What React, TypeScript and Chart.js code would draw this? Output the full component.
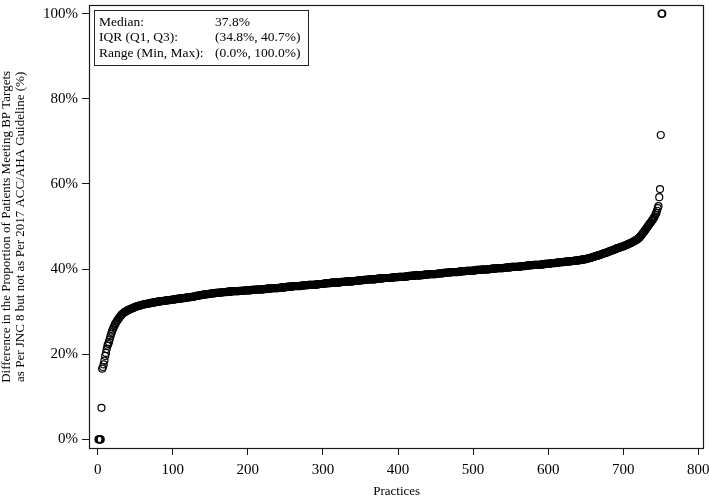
import React, { useEffect, useRef } from "react";
import { Chart, registerables } from "chart.js";

Chart.register(...registerables);

const FONT = "'Liberation Serif', 'Times New Roman', serif";

const xTickValues = [0, 100, 200, 300, 400, 500, 600, 700, 800];
const yTickValues = [0, 20, 40, 60, 80, 100];
const xTitle = "Practices";
const yTitleLines = [
  "Difference in the Proportion of Patients Meeting BP Targets",
  "as Per JNC 8 but not as Per 2017 ACC/AHA Guideline (%)",
];
const summaryLabels = ["Median:", "IQR (Q1, Q3):", "Range (Min, Max):"];
const summaryValues = ["37.8%", "(34.8%, 40.7%)", "(0.0%, 100.0%)"];

// Sorted per-practice difference (%), practices ranked 1..N
const proportionPct = [
  0, 0, 0, 0, 7.4, 16.6, 17.0, 17.6, 18.5, 19.6,
  20.3, 21.2, 22.0, 22.4, 22.9, 23.5, 24.2, 24.8, 25.3, 25.8,
  26.2, 26.6, 27.0, 27.3, 27.6, 27.9, 28.1, 28.4, 28.6, 28.9,
  29.1, 29.3, 29.5, 29.6, 29.8, 29.9, 30.0, 30.1, 30.2, 30.3,
  30.4, 30.5, 30.6, 30.6, 30.7, 30.8, 30.9, 30.9, 31.0, 31.1,
  31.2, 31.2, 31.3, 31.3, 31.4, 31.4, 31.5, 31.5, 31.6, 31.6,
  31.7, 31.7, 31.8, 31.8, 31.8, 31.9, 31.9, 31.9, 32.0, 32.0,
  32.0, 32.1, 32.1, 32.1, 32.2, 32.2, 32.2, 32.3, 32.3, 32.3,
  32.4, 32.4, 32.4, 32.4, 32.5, 32.5, 32.5, 32.5, 32.6, 32.6,
  32.6, 32.6, 32.7, 32.7, 32.7, 32.7, 32.8, 32.8, 32.8, 32.8,
  32.9, 32.9, 32.9, 32.9, 33.0, 33.0, 33.0, 33.0, 33.1, 33.1,
  33.1, 33.1, 33.2, 33.2, 33.2, 33.2, 33.3, 33.3, 33.3, 33.3,
  33.4, 33.4, 33.4, 33.4, 33.5, 33.5, 33.5, 33.5, 33.6, 33.6,
  33.7, 33.7, 33.7, 33.8, 33.8, 33.8, 33.9, 33.9, 33.9, 34.0,
  34.0, 34.0, 34.0, 34.1, 34.1, 34.1, 34.1, 34.2, 34.2, 34.2,
  34.2, 34.3, 34.3, 34.3, 34.3, 34.3, 34.4, 34.4, 34.4, 34.4,
  34.4, 34.5, 34.5, 34.5, 34.5, 34.5, 34.6, 34.6, 34.6, 34.6,
  34.6, 34.6, 34.7, 34.7, 34.7, 34.7, 34.7, 34.7, 34.8, 34.8,
  34.8, 34.8, 34.8, 34.8, 34.8, 34.8, 34.8, 34.8, 34.9, 34.9,
  34.9, 34.9, 34.9, 34.9, 34.9, 35.0, 35.0, 35.0, 35.0, 35.0,
  35.0, 35.0, 35.0, 35.0, 35.1, 35.1, 35.1, 35.1, 35.1, 35.1,
  35.2, 35.2, 35.2, 35.2, 35.2, 35.2, 35.2, 35.2, 35.2, 35.2,
  35.3, 35.3, 35.3, 35.3, 35.4, 35.4, 35.4, 35.4, 35.4, 35.4,
  35.5, 35.5, 35.5, 35.5, 35.5, 35.5, 35.5, 35.5, 35.5, 35.5,
  35.6, 35.6, 35.6, 35.6, 35.7, 35.7, 35.7, 35.7, 35.7, 35.7,
  35.8, 35.8, 35.8, 35.8, 35.9, 35.9, 35.9, 35.9, 35.9, 35.9,
  36.0, 36.0, 36.0, 36.0, 36.0, 36.0, 36.0, 36.0, 36.0, 36.0,
  36.1, 36.1, 36.1, 36.1, 36.2, 36.2, 36.2, 36.2, 36.2, 36.2,
  36.3, 36.3, 36.3, 36.3, 36.3, 36.3, 36.3, 36.3, 36.3, 36.3,
  36.4, 36.4, 36.4, 36.4, 36.5, 36.5, 36.5, 36.5, 36.5, 36.5,
  36.6, 36.6, 36.6, 36.6, 36.7, 36.7, 36.7, 36.7, 36.7, 36.7,
  36.8, 36.8, 36.8, 36.8, 36.8, 36.8, 36.8, 36.8, 36.8, 36.8,
  36.9, 36.9, 36.9, 36.9, 37.0, 37.0, 37.0, 37.0, 37.0, 37.0,
  37.1, 37.1, 37.1, 37.1, 37.1, 37.1, 37.1, 37.1, 37.1, 37.1,
  37.2, 37.2, 37.2, 37.2, 37.3, 37.3, 37.3, 37.3, 37.3, 37.3,
  37.4, 37.4, 37.4, 37.4, 37.5, 37.5, 37.5, 37.5, 37.5, 37.5,
  37.6, 37.6, 37.6, 37.6, 37.6, 37.6, 37.6, 37.6, 37.6, 37.6,
  37.7, 37.7, 37.7, 37.7, 37.8, 37.8, 37.8, 37.8, 37.8, 37.8,
  37.9, 37.9, 37.9, 37.9, 37.9, 37.9, 37.9, 37.9, 37.9, 37.9,
  38.0, 38.0, 38.0, 38.0, 38.1, 38.1, 38.1, 38.1, 38.1, 38.1,
  38.2, 38.2, 38.2, 38.2, 38.2, 38.2, 38.2, 38.2, 38.2, 38.2,
  38.3, 38.3, 38.3, 38.3, 38.4, 38.4, 38.4, 38.4, 38.4, 38.4,
  38.5, 38.5, 38.5, 38.5, 38.5, 38.5, 38.5, 38.5, 38.5, 38.5,
  38.6, 38.6, 38.6, 38.6, 38.7, 38.7, 38.7, 38.7, 38.7, 38.7,
  38.8, 38.8, 38.8, 38.8, 38.8, 38.8, 38.8, 38.8, 38.8, 38.8,
  38.9, 38.9, 38.9, 38.9, 39.0, 39.0, 39.0, 39.0, 39.0, 39.0,
  39.1, 39.1, 39.1, 39.1, 39.2, 39.2, 39.2, 39.2, 39.2, 39.2,
  39.3, 39.3, 39.3, 39.3, 39.3, 39.3, 39.3, 39.3, 39.3, 39.3,
  39.4, 39.4, 39.4, 39.4, 39.5, 39.5, 39.5, 39.5, 39.5, 39.5,
  39.6, 39.6, 39.6, 39.6, 39.6, 39.6, 39.6, 39.6, 39.6, 39.6,
  39.7, 39.7, 39.7, 39.7, 39.8, 39.8, 39.8, 39.8, 39.8, 39.8,
  39.9, 39.9, 39.9, 39.9, 39.9, 39.9, 39.9, 39.9, 39.9, 39.9,
  40.0, 40.0, 40.0, 40.0, 40.1, 40.1, 40.1, 40.1, 40.1, 40.1,
  40.2, 40.2, 40.2, 40.2, 40.2, 40.2, 40.2, 40.2, 40.2, 40.2,
  40.3, 40.3, 40.3, 40.3, 40.4, 40.4, 40.4, 40.4, 40.4, 40.4,
  40.5, 40.5, 40.5, 40.5, 40.5, 40.5, 40.5, 40.5, 40.5, 40.5,
  40.6, 40.6, 40.6, 40.6, 40.7, 40.7, 40.7, 40.7, 40.7, 40.7,
  40.8, 40.8, 40.8, 40.8, 40.9, 40.9, 40.9, 40.9, 40.9, 40.9,
  41.0, 41.0, 41.0, 41.0, 41.0, 41.0, 41.0, 41.0, 41.0, 41.0,
  41.1, 41.1, 41.1, 41.1, 41.2, 41.2, 41.2, 41.2, 41.2, 41.2,
  41.3, 41.3, 41.3, 41.3, 41.4, 41.4, 41.4, 41.4, 41.4, 41.4,
  41.5, 41.5, 41.5, 41.5, 41.6, 41.6, 41.6, 41.6, 41.6, 41.6,
  41.7, 41.7, 41.7, 41.7, 41.8, 41.8, 41.8, 41.8, 41.8, 41.8,
  41.9, 41.9, 41.9, 41.9, 42.0, 42.0, 42.0, 42.0, 42.0, 42.0,
  42.1, 42.1, 42.1, 42.2, 42.2, 42.2, 42.3, 42.3, 42.3, 42.3,
  42.4, 42.4, 42.5, 42.5, 42.6, 42.6, 42.7, 42.7, 42.8, 42.8,
  42.9, 43.0, 43.0, 43.1, 43.1, 43.2, 43.2, 43.3, 43.3, 43.4,
  43.5, 43.5, 43.6, 43.7, 43.7, 43.8, 43.8, 43.9, 44.0, 44.0,
  44.1, 44.2, 44.2, 44.3, 44.4, 44.4, 44.5, 44.6, 44.6, 44.7,
  44.8, 44.9, 44.9, 45.0, 45.0, 45.1, 45.2, 45.2, 45.3, 45.3,
  45.4, 45.5, 45.6, 45.6, 45.7, 45.8, 45.9, 46.0, 46.0, 46.1,
  46.2, 46.3, 46.4, 46.5, 46.6, 46.7, 46.8, 46.9, 47.0, 47.2,
  47.3, 47.5, 47.7, 47.9, 48.1, 48.4, 48.6, 48.8, 49.1, 49.3,
  49.6, 49.8, 50.1, 50.3, 50.6, 50.8, 51.0, 51.3, 51.5, 51.8,
  52.1, 52.4, 52.8, 53.2, 53.7, 54.3, 54.8, 56.9, 58.8, 71.5,
  100, 100,
];

const practiceRank = proportionPct.map((_, i) => i + 1);

const framePlugin = {
  id: "frameAndSummary",
  afterDraw(chart: any) {
    const { ctx, chartArea: a } = chart;
    ctx.save();
    ctx.strokeStyle = "#1a1a1a";
    ctx.lineWidth = 1.2;
    ctx.strokeRect(
      Math.round(a.left) + 0.5,
      Math.round(a.top) + 0.5,
      Math.round(a.right - a.left) - 1,
      Math.round(a.bottom - a.top) - 1
    );
    // summary box
    const bx = Math.round(a.left) + 5.5;
    const by = Math.round(a.top) + 5.5;
    ctx.strokeStyle = "#222";
    ctx.lineWidth = 1;
    ctx.strokeRect(bx, by, 214, 55);
    ctx.fillStyle = "#000";
    ctx.font = `13.5px ${FONT}`;
    ctx.textBaseline = "alphabetic";
    ctx.textAlign = "left";
    summaryLabels.forEach((lab, i) => {
      const y = by + 15 + i * 15.5;
      ctx.fillText(lab, bx + 4.5, y);
      ctx.fillText(summaryValues[i], bx + 120.5, y);
    });
    ctx.restore();
  },
};

export default function App() {
  const ref = useRef<HTMLCanvasElement | null>(null);
  useEffect(() => {
    if (!ref.current) return;
    const chart = new Chart(ref.current, {
      type: "scatter",
      data: {
        datasets: [
          {
            data: practiceRank.map((r, i) => ({ x: r, y: proportionPct[i] })),
            pointRadius: 3.5,
            pointBorderWidth: 1.2,
            pointBorderColor: "#000",
            pointBackgroundColor: "rgba(0,0,0,0)",
            pointHoverRadius: 3.5,
          },
        ],
      },
      options: {
        responsive: false,
        maintainAspectRatio: false,
        animation: false,
        devicePixelRatio: 1,
        events: [],
        layout: { padding: { top: 1, right: 4, left: 0, bottom: 0 } },
        plugins: { legend: { display: false }, tooltip: { enabled: false } },
        scales: {
          x: {
            type: "linear",
            min: -11.6,
            max: 808,
            afterBuildTicks: (s: any) => {
              s.ticks = xTickValues.map((v) => ({ value: v }));
            },
            afterFit: (s: any) => {
              s.height = 51;
              s.paddingLeft = 0;
              s.paddingRight = 0;
              s.paddingTop = 0;
              s.paddingBottom = 0;
            },
            ticks: {
              font: { family: FONT, size: 15 },
              color: "#000",
              padding: 6,
              maxRotation: 0,
              autoSkip: false,
              callback: (v: any) => String(v),
            },
            grid: {
              display: true,
              drawOnChartArea: false,
              drawTicks: true,
              tickLength: 6,
              color: "#1a1a1a",
              lineWidth: 1,
            },
            border: { display: false },
            title: {
              display: true,
              text: xTitle,
              font: { family: FONT, size: 13 },
              color: "#000",
              padding: { top: 0, bottom: 1 },
            },
          },
          y: {
            type: "linear",
            min: -2.26,
            max: 102.1,
            afterBuildTicks: (s: any) => {
              s.ticks = yTickValues.map((v) => ({ value: v }));
            },
            afterFit: (s: any) => {
              s.width = 89;
              s.paddingLeft = 0;
              s.paddingRight = 0;
              s.paddingTop = 0;
              s.paddingBottom = 0;
            },
            ticks: {
              font: { family: FONT, size: 15 },
              color: "#000",
              padding: 4,
              autoSkip: false,
              callback: (v: any) => `${v}%`,
            },
            grid: {
              display: true,
              drawOnChartArea: false,
              drawTicks: true,
              tickLength: 7,
              color: "#1a1a1a",
              lineWidth: 1,
            },
            border: { display: false },
            title: {
              display: true,
              text: yTitleLines,
              font: { family: FONT, size: 13, lineHeight: 1.05 },
              color: "#000",
              padding: { top: 0, bottom: 0 },
            },
          },
        },
      },
      plugins: [framePlugin],
    });
    return () => chart.destroy();
  }, []);
  return (
    <div style={{ position: "fixed", left: 0, top: 0, width: 709, height: 500, background: "#fff" }}>
      <canvas ref={ref} width={709} height={500} style={{ width: 709, height: 500, display: "block" }} />
    </div>
  );
}
